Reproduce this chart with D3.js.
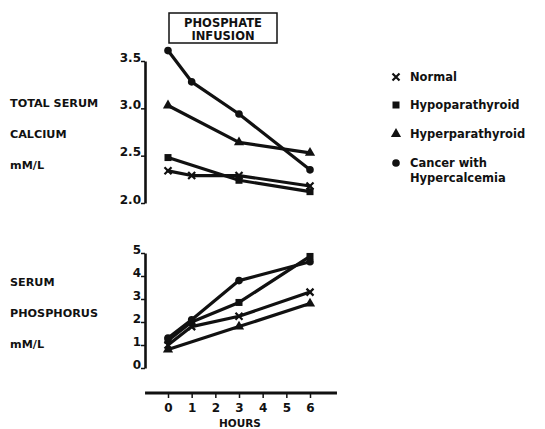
<!DOCTYPE html>
<html><head><meta charset="utf-8">
<script src="https://cdn.jsdelivr.net/npm/d3@7"></script>
<style>body{margin:0;background:#fff;} text{font-family:"DejaVu Sans",sans-serif;font-weight:bold;fill:#111;}</style>
</head><body>
<script>
// Data
const hours = [0, 1, 3, 6];
const hourTicks = [0, 1, 2, 3, 4, 5, 6];
const seriesNames = ["Normal", "Hypoparathyroid", "Hyperparathyroid", "Cancer with Hypercalcemia"];
const markers = ["cross", "square", "triangle", "circle"];
const calciumTicks = [2.0, 2.5, 3.0, 3.5];
const calciumTickLabels = ["2.0", "2.5", "3.0", "3.5"];
const phosTicks = [0, 1, 2, 3, 4, 5];
const calciumNormal = [2.34, 2.29, 2.29, 2.18];
const calciumHypo = [2.48, null, 2.24, 2.12];
const calciumHyper = [3.03, null, 2.64, 2.53];
const calciumCancer = [3.61, 3.28, 2.94, 2.35];
const phosNormal = [1.0, 1.8, 2.25, 3.3];
const phosHypo = [1.2, 2.0, 2.85, 4.85];
const phosHyper = [0.8, null, 1.8, 2.8];
const phosCancer = [1.3, 2.1, 3.8, 4.62];

const W = 545, H = 429;
const svg = d3.select("body").append("svg").attr("width", W).attr("height", H);

const x = d3.scaleLinear().domain([0, 6]).range([168, 310]);
const yCa = d3.scaleLinear().domain([2.0, 3.5]).range([203, 61]);
const yP = d3.scaleLinear().domain([0, 5]).range([368, 253]);

function sym(g, type, cx, cy) {
  if (type === "circle") g.append("circle").attr("cx", cx).attr("cy", cy).attr("r", 3.8).attr("fill", "#111");
  else if (type === "square") g.append("rect").attr("x", cx - 3.5).attr("y", cy - 3.5).attr("width", 7).attr("height", 7).attr("fill", "#111");
  else if (type === "triangle") g.append("path").attr("d", d3.symbol(d3.symbolTriangle, 45)()).attr("transform", `translate(${cx},${cy})`).attr("fill", "#111");
  else g.append("path").attr("d", `M${cx-3.5},${cy-3.5}L${cx+3.5},${cy+3.5}M${cx-3.5},${cy+3.5}L${cx+3.5},${cy-3.5}`).attr("stroke", "#111").attr("stroke-width", 2.2);
}

function drawPanel(y, seriesArr, ticks, labels) {
  const ax = svg.append("g").attr("transform", "translate(145,0)")
    .call(d3.axisLeft(y).tickValues(ticks).tickFormat((d, i) => labels[i]).tickSize(4).tickSizeOuter(0));
  ax.select(".domain").attr("stroke", "#111").attr("stroke-width", 2.6);
  ax.selectAll(".tick line").attr("stroke", "#111").attr("stroke-width", 1.5);
  ax.selectAll(".tick text").attr("x", -4).attr("dy", "0").attr("font-size", 12)
    .attr("font-family", "DejaVu Sans").attr("font-weight", "bold").attr("fill", "#111");
  seriesArr.forEach((vals, si) => {
    const pts = hours.map((h, i) => [h, vals[i]]).filter(p => p[1] !== null);
    const line = d3.line().x(p => x(p[0])).y(p => y(p[1]));
    svg.append("path").attr("d", line(pts)).attr("fill", "none").attr("stroke", "#111")
      .attr("stroke-width", 3.2).attr("stroke-linejoin", "round").attr("stroke-linecap", "round");
    const g = svg.append("g");
    pts.forEach(p => sym(g, markers[si], x(p[0]), y(p[1])));
  });
}

drawPanel(yCa, [calciumNormal, calciumHypo, calciumHyper, calciumCancer], calciumTicks, calciumTickLabels);
drawPanel(yP, [phosNormal, phosHypo, phosHyper, phosCancer], phosTicks, phosTicks.map(String));

// X axis
const xAxisY = 393;
svg.append("line").attr("x1", x(-0.97)).attr("x2", x(7.14)).attr("y1", xAxisY).attr("y2", xAxisY)
  .attr("stroke", "#111").attr("stroke-width", 3);
const xa = svg.append("g").attr("transform", `translate(0,${xAxisY})`)
  .call(d3.axisBottom(x).tickValues(hourTicks).tickFormat(d3.format("d")).tickSize(5).tickSizeOuter(0));
xa.select(".domain").remove();
xa.selectAll(".tick line").attr("stroke", "#111").attr("stroke-width", 1.5);
xa.selectAll(".tick text").attr("y", 19).attr("dy", "0").attr("font-size", 12)
  .attr("font-family", "DejaVu Sans").attr("font-weight", "bold").attr("fill", "#111");
svg.append("text").attr("x", 240).attr("y", 427).attr("text-anchor", "middle").attr("font-size", 10.5).text("HOURS");

// Title box
svg.append("rect").attr("x", 169).attr("y", 13).attr("width", 108).attr("height", 30)
  .attr("fill", "none").attr("stroke", "#111").attr("stroke-width", 1.5);
svg.append("text").attr("x", 223).attr("y", 27).attr("text-anchor", "middle").attr("font-size", 11.5).text("PHOSPHATE");
svg.append("text").attr("x", 223).attr("y", 40).attr("text-anchor", "middle").attr("font-size", 11.5).text("INFUSION");

// Left labels
const leftCa = ["TOTAL SERUM", "CALCIUM", "mM/L"];
const leftP = ["SERUM", "PHOSPHORUS", "mM/L"];
leftCa.forEach((t, i) => svg.append("text").attr("x", 10).attr("y", 107 + i * 31).attr("font-size", 11.2).text(t));
leftP.forEach((t, i) => svg.append("text").attr("x", 10).attr("y", 286 + i * 31).attr("font-size", 11.2).text(t));

// Legend
const legY = [77, 105, 134, 163];
seriesNames.forEach((n, i) => {
  const g = svg.append("g");
  sym(g, markers[i], 396, legY[i]);
  if (i === 3) {
    svg.append("text").attr("x", 410).attr("y", legY[i] + 4).attr("font-size", 11.5).text("Cancer with");
    svg.append("text").attr("x", 410).attr("y", legY[i] + 19).attr("font-size", 11.5).text("Hypercalcemia");
  } else {
    svg.append("text").attr("x", 410).attr("y", legY[i] + 4).attr("font-size", 11.5).text(n);
  }
});
</script>
</body></html>
